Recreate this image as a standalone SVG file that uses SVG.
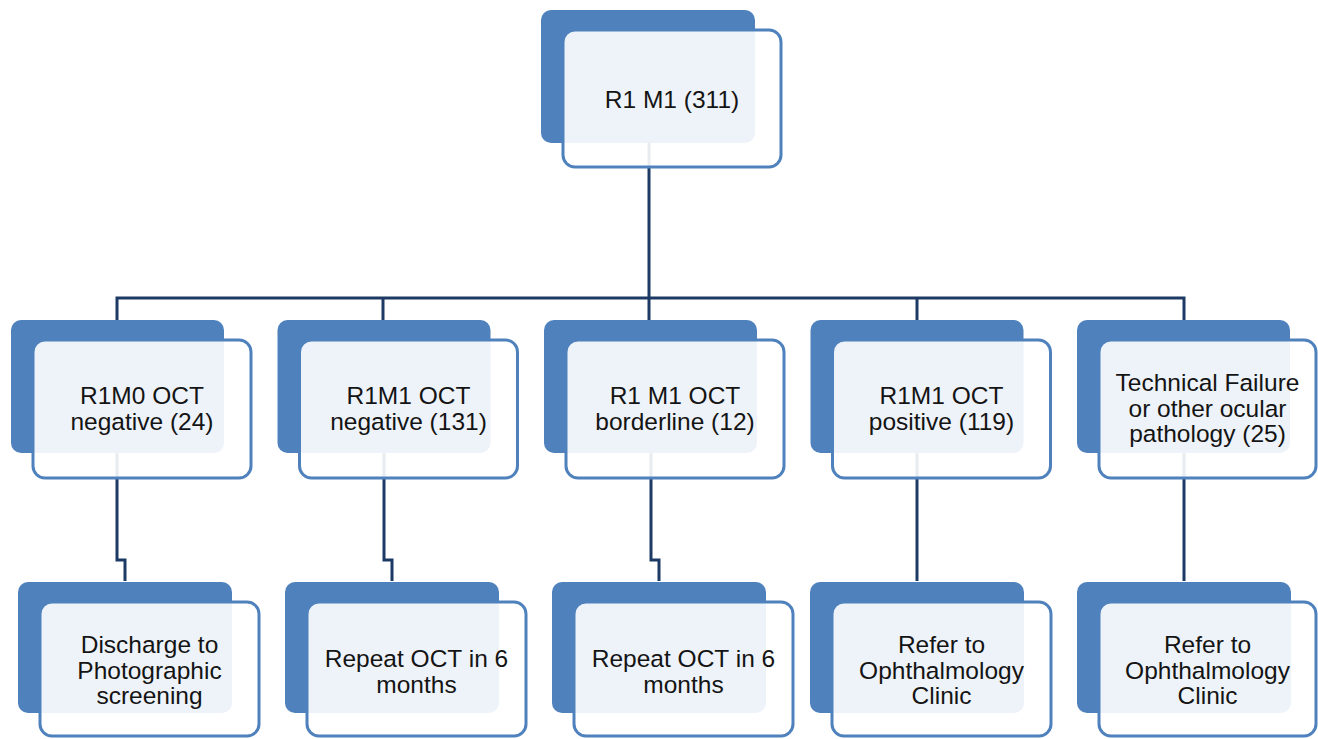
<svg xmlns="http://www.w3.org/2000/svg" width="1318" height="739" viewBox="0 0 1318 739">
<style>
.bk{fill:#4F81BD;}
.fr{fill:#ffffff;fill-opacity:0.9;stroke:#4F81BD;stroke-width:3;}
.cn{fill:none;stroke:#1C3A63;stroke-width:3;stroke-linejoin:miter;}
.t{font-family:"Liberation Sans",Arial,sans-serif;font-size:24.5px;fill:#141414;text-anchor:middle;}
</style>
<rect width="1318" height="739" fill="#ffffff"/>
<g id="connectors" class="cn">
<path d="M649 143 V320"/>
<path d="M117 320 V298 H1184 V320"/>
<path d="M383 298 V320"/>
<path d="M917 298 V320"/>
<path d="M117 453 V560 H125 V581"/>
<path d="M384 453 V560 H392 V581"/>
<path d="M651 453 V560 H659 V581"/>
<path d="M917 453 V581"/>
<path d="M1184 453 V581"/>
</g>
<g id="n-top">
<rect class="bk" x="541" y="10" width="214" height="133" rx="10"/>
<rect class="fr" x="563" y="30" width="218" height="137" rx="12"/>
<text class="t" x="672" y="108">R1 M1 (311)</text>
</g>
<g id="n-r1m0-neg">
<rect class="bk" x="11" y="320" width="213" height="133" rx="10"/>
<rect class="fr" x="33" y="340" width="218" height="138" rx="12"/>
<text class="t" x="142" y="404">R1M0 OCT</text>
<text class="t" x="142" y="429.5">negative (24)</text>
</g>
<g id="n-r1m1-neg">
<rect class="bk" x="277.5" y="320" width="213" height="133" rx="10"/>
<rect class="fr" x="299.5" y="340" width="218" height="138" rx="12"/>
<text class="t" x="408.5" y="404">R1M1 OCT</text>
<text class="t" x="408.5" y="429.5">negative (131)</text>
</g>
<g id="n-r1m1-border">
<rect class="bk" x="544" y="320" width="213" height="133" rx="10"/>
<rect class="fr" x="566" y="340" width="218" height="138" rx="12"/>
<text class="t" x="675" y="404">R1 M1 OCT</text>
<text class="t" x="675" y="429.5">borderline (12)</text>
</g>
<g id="n-r1m1-pos">
<rect class="bk" x="810.5" y="320" width="213" height="133" rx="10"/>
<rect class="fr" x="832.5" y="340" width="218" height="138" rx="12"/>
<text class="t" x="941.5" y="404">R1M1 OCT</text>
<text class="t" x="941.5" y="429.5">positive (119)</text>
</g>
<g id="n-techfail">
<rect class="bk" x="1077" y="320" width="213" height="133" rx="10"/>
<rect class="fr" x="1099" y="340" width="217" height="138" rx="12"/>
<text class="t" x="1207.5" y="390.5">Technical Failure</text>
<text class="t" x="1207.5" y="416.5">or other ocular</text>
<text class="t" x="1207.5" y="442">pathology (25)</text>
</g>
<g id="n-discharge">
<rect class="bk" x="18" y="582" width="214" height="131" rx="10"/>
<rect class="fr" x="40" y="602" width="219" height="134" rx="12"/>
<text class="t" x="149.5" y="653">Discharge to</text>
<text class="t" x="149.5" y="678.5">Photographic</text>
<text class="t" x="149.5" y="704">screening</text>
</g>
<g id="n-repeat1">
<rect class="bk" x="285" y="582" width="214" height="131" rx="10"/>
<rect class="fr" x="307" y="602" width="219" height="134" rx="12"/>
<text class="t" x="416.5" y="667">Repeat OCT in 6</text>
<text class="t" x="416.5" y="693">months</text>
</g>
<g id="n-repeat2">
<rect class="bk" x="552" y="582" width="214" height="131" rx="10"/>
<rect class="fr" x="574" y="602" width="219" height="134" rx="12"/>
<text class="t" x="683.5" y="667">Repeat OCT in 6</text>
<text class="t" x="683.5" y="693">months</text>
</g>
<g id="n-refer1">
<rect class="bk" x="810" y="582" width="214" height="131" rx="10"/>
<rect class="fr" x="832" y="602" width="219" height="134" rx="12"/>
<text class="t" x="941.5" y="653">Refer to</text>
<text class="t" x="941.5" y="678.5">Ophthalmology</text>
<text class="t" x="941.5" y="704">Clinic</text>
</g>
<g id="n-refer2">
<rect class="bk" x="1077" y="582" width="214" height="131" rx="10"/>
<rect class="fr" x="1099" y="602" width="217" height="134" rx="12"/>
<text class="t" x="1207.5" y="653">Refer to</text>
<text class="t" x="1207.5" y="678.5">Ophthalmology</text>
<text class="t" x="1207.5" y="704">Clinic</text>
</g>
</svg>
